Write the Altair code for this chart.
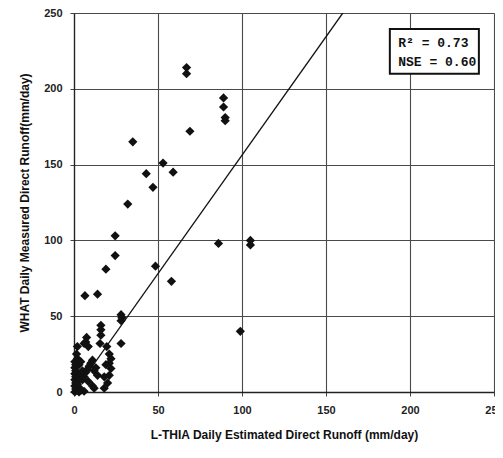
import altair as alt
import pandas as pd

# L-THIA estimated (x) vs WHAT measured (y) daily direct runoff, mm/day
x_vals = [67, 67, 69, 89, 89, 90, 90,
          105, 105, 86, 99,
          35, 53, 59, 43, 47, 32,
          24.5, 24.5, 19, 48.5, 58, 6.5, 14,
          28, 28, 28.5, 16, 16, 16, 15.5,
          7.5, 7, 8.5, 28, 2, 6, 19.5,
          21, 22, 21, 22, 21, 19, 18, 20,
          12, 18, 8.5, 11,
          0.5, 1, 0.5, 1, 0.5, 1, 0.5, 1, 0.5, 1, 0.5, 2, 1.5,
          2, 3, 3, 4, 5, 6, 7, 8, 9, 10, 11, 12, 13, 14,
          4, 6, 2, 3, 5, 4, 3]
y_vals = [214, 210, 172, 194, 188, 181, 179,
          100, 97, 98, 40,
          165, 151, 145, 144, 135, 124,
          103, 90, 81, 83, 73, 63.5, 64.5,
          51, 47, 49, 44, 41, 37.5, 32,
          36, 33, 30, 32, 30, 32, 30,
          25, 22, 19, 15.5, 11, 18, 10, 6,
          2.5, 2.5, 7, 4,
          0, 2, 4, 6, 8, 10, 12, 14, 16, 18, 20, 22, 25,
          5, 3, 9, 12, 8, 10, 13, 15, 17, 19, 21, 14, 16, 11,
          1, 0.5, 1, 18, 14, 20, 0]

fit_x = [0, 160]
fit_y = [0, 250]

stat_lines = ["R\u00b2 = 0.73", "NSE = 0.60"]
stat_y = [230, 218]

pts = pd.DataFrame({"x": x_vals, "y": y_vals})
fit = pd.DataFrame({"x": fit_x, "y": fit_y})
stats = pd.DataFrame({"t": stat_lines, "y": stat_y})

xs = alt.Scale(domain=[0, 250], nice=False, zero=False)
ys = alt.Scale(domain=[0, 250], nice=False, zero=False)

xax = alt.Axis(values=[0, 50, 100, 150, 200, 250], title="L-THIA Daily Estimated Direct Runoff (mm/day)",
               grid=True, gridColor="#4a4a4a", gridWidth=1.1, domainColor="#222", domainWidth=1.3,
               tickColor="#444", tickSize=4, labelFont="Liberation Sans", labelFontWeight="bold",
               labelFontSize=11, labelColor="#222", labelPadding=8, titleFont="Liberation Sans",
               titleFontWeight="bold", titleFontSize=12, titleColor="#111", titlePadding=14,
               labelFlush=False)
yax = alt.Axis(values=[0, 50, 100, 150, 200, 250], title="WHAT Daily Measured Direct Runoff(mm/day)",
               grid=True, gridColor="#4a4a4a", gridWidth=1.1, domainColor="#222", domainWidth=1.3,
               tickColor="#444", tickSize=4, labelFont="Liberation Sans", labelFontWeight="bold",
               labelFontSize=11, labelColor="#222", labelPadding=8, titleFont="Liberation Sans",
               titleFontWeight="bold", titleFontSize=12, titleColor="#111", titlePadding=12,
               labelFlush=False)

points = alt.Chart(pts).mark_point(shape="diamond", filled=True, color="#111", size=85, opacity=1).encode(
    x=alt.X("x:Q", scale=xs, axis=xax),
    y=alt.Y("y:Q", scale=ys, axis=yax),
)

line = alt.Chart(fit).mark_line(color="#111", strokeWidth=1.3, clip=True).encode(
    x=alt.X("x:Q", scale=xs), y=alt.Y("y:Q", scale=ys)
)

box = alt.Chart(pd.DataFrame({"a": [0]})).mark_rect(fill="white", stroke="#111", strokeWidth=2).encode(
    x=alt.datum(188, scale=xs), x2=alt.datum(241),
    y=alt.datum(239.5, scale=ys), y2=alt.datum(210),
)

text = alt.Chart(stats).mark_text(align="left", baseline="middle", font="Liberation Mono",
                                  fontWeight="bold", fontSize=13, color="#111").encode(
    x=alt.datum(193, scale=xs), y=alt.Y("y:Q", scale=ys), text="t:N"
)

chart = alt.layer(line, points, box, text).properties(
    width=420, height=379,
    autosize=alt.AutoSizeParams(type="none"),
    padding={"left": 66, "top": 5, "right": 1, "bottom": 50},
).configure_view(stroke="#4a4a4a", strokeWidth=1.1).configure(background="white")

chart.save("out.html", embed_options={"renderer": "svg", "actions": False})
